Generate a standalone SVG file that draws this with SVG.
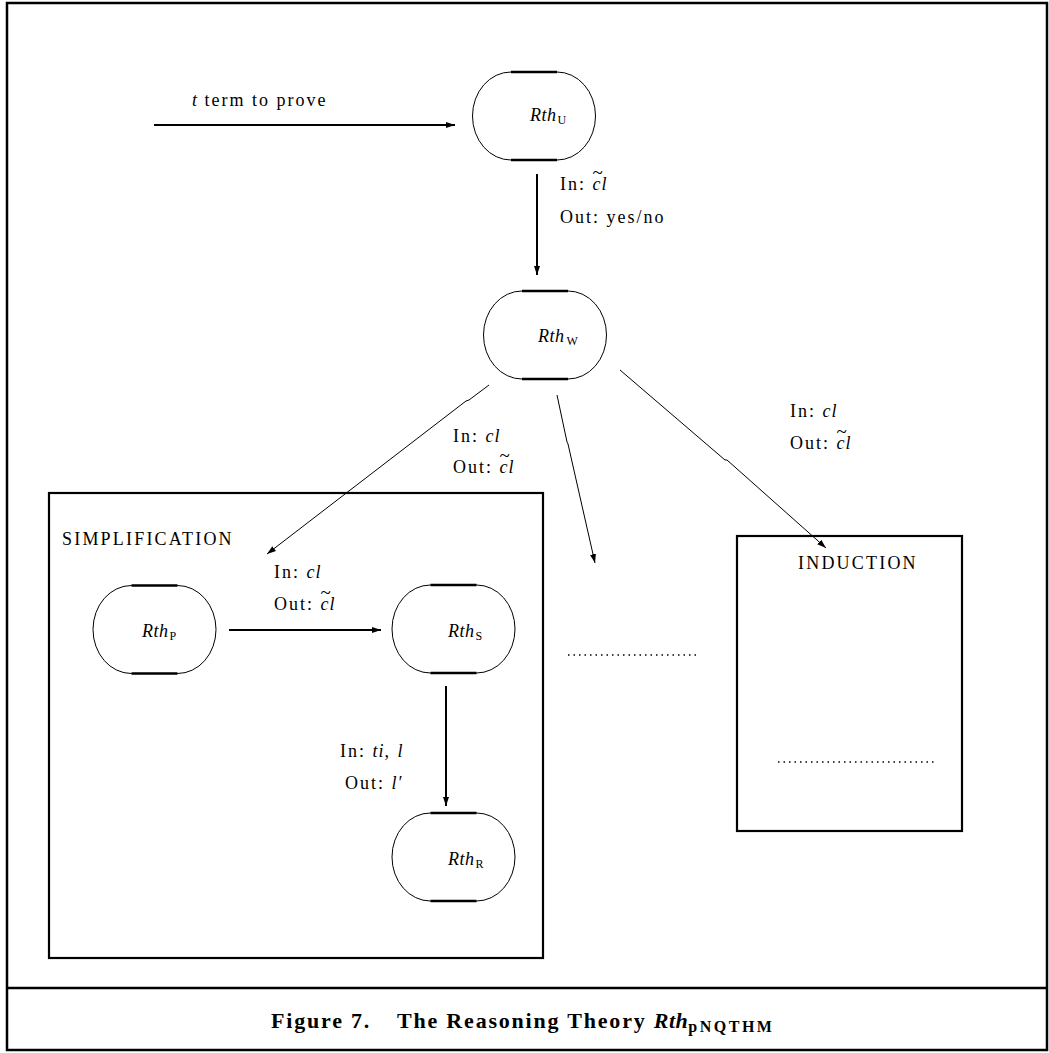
<svg xmlns="http://www.w3.org/2000/svg" xmlns:xlink="http://www.w3.org/1999/xlink" width="1049" height="1053" viewBox="0 0 1049 1053">
  <style>
    text { font-family: "Liberation Serif", "DejaVu Serif", serif; font-size: 18px; letter-spacing: 2px; fill: #000; }
    .it { font-style: italic; letter-spacing: 1px; }
    .tl { font-size: 19px; font-style: normal; letter-spacing: 0; }
    .sub { font-size: 12px; font-style: normal; letter-spacing: 0; }
    .rth { font-size: 18px; font-style: italic; letter-spacing: 0.5px; }
    .caps { letter-spacing: 2.2px; }
    .edge { fill: none; stroke: #000; }
    .frame { fill: none; stroke: #000; stroke-width: 2.5; }
    .box { fill: none; stroke: #000; stroke-width: 2.2; }
    .outline { fill: #fff; stroke: #000; stroke-width: 1; }
    .flat { fill: none; stroke: #000; stroke-width: 2.5; }
    .caption { font-size: 22px; font-weight: bold; letter-spacing: 1.8px; }
  </style>
  <defs>
    <marker id="arrow" markerUnits="userSpaceOnUse" markerWidth="10" markerHeight="8" refX="9" refY="4" orient="auto">
      <path d="M0,1 L9,4 L0,7 Z" fill="#000"/>
    </marker>
    <!-- rounded-end node shape, centred on the origin -->
    <g id="stadium">
      <path class="outline" d="M-23,-44 H23 A38.5,44 0 0 1 23,44 H-23 A38.5,44 0 0 1 -23,-44 Z"/>
      <path class="flat" d="M-23,-44 H23 M-23,44 H23"/>
    </g>
  </defs>

  <rect width="1049" height="1053" fill="#fff"/>

  <!-- outer frame and caption rule -->
  <rect class="frame" x="7" y="3" width="1040" height="1047"/>
  <line class="frame" x1="7" y1="988" x2="1047" y2="988"/>

  <!-- containers -->
  <g id="simplification">
    <rect class="box" x="49" y="493" width="494" height="465"/>
    <text class="caps" x="62" y="545">SIMPLIFICATION</text>
  </g>
  <g id="induction">
    <rect class="box" x="737" y="536" width="225" height="295"/>
    <text class="caps" x="798" y="569">INDUCTION</text>
    <line x1="778" y1="762" x2="935" y2="762" stroke="#000" stroke-width="1.5" stroke-dasharray="1.5,4"/>
  </g>

  <!-- connectors -->
  <g id="connectors">
    <line class="edge" stroke-width="2" x1="154" y1="125" x2="455" y2="125" marker-end="url(#arrow)"/>
    <line class="edge" stroke-width="2" x1="537" y1="174" x2="537" y2="275" marker-end="url(#arrow)"/>
    <polyline class="edge" stroke-width="1" points="489,385 469,400 466,401 267,554" marker-end="url(#arrow)"/>
    <polyline class="edge" stroke-width="1" points="557,395 567,442 568,444 595,563" marker-end="url(#arrow)"/>
    <polyline class="edge" stroke-width="1" points="620,370 725,460 727,460 826,548" marker-end="url(#arrow)"/>
    <line class="edge" stroke-width="2" x1="229" y1="630" x2="381" y2="630" marker-end="url(#arrow)"/>
    <line class="edge" stroke-width="2" x1="446" y1="686" x2="446" y2="806" marker-end="url(#arrow)"/>
    <line x1="568" y1="655" x2="698" y2="655" stroke="#000" stroke-width="1.5" stroke-dasharray="1.5,4"/>
  </g>

  <!-- connector labels; the trailing "~" tspan is the tilde accent over cl -->
  <g id="labels">
    <text x="192" y="106"><tspan class="it">t</tspan> term to prove</text>

    <text x="560" y="190">In: <tspan class="it">cl</tspan><tspan class="tl" dx="-15" dy="-11">~</tspan></text>
    <text x="560" y="223">Out: yes/no</text>

    <text x="453" y="442">In: <tspan class="it">cl</tspan></text>
    <text x="453" y="473">Out: <tspan class="it">cl</tspan><tspan class="tl" dx="-15" dy="-11">~</tspan></text>

    <text x="790" y="417">In: <tspan class="it">cl</tspan></text>
    <text x="790" y="449">Out: <tspan class="it">cl</tspan><tspan class="tl" dx="-15" dy="-11">~</tspan></text>

    <text x="274" y="578">In: <tspan class="it">cl</tspan></text>
    <text x="274" y="610">Out: <tspan class="it">cl</tspan><tspan class="tl" dx="-15" dy="-11">~</tspan></text>

    <text x="340" y="757">In: <tspan class="it">ti</tspan>, <tspan class="it">l</tspan></text>
    <text x="345" y="789">Out: <tspan class="it">l′</tspan></text>
  </g>

  <!-- nodes -->
  <g id="rth-u">
    <use xlink:href="#stadium" transform="translate(534,116)"/>
    <text x="530" y="121"><tspan class="rth">Rth</tspan><tspan class="sub" dx="1" dy="3">U</tspan></text>
  </g>
  <g id="rth-w">
    <use xlink:href="#stadium" transform="translate(545,335)"/>
    <text x="538" y="342"><tspan class="rth">Rth</tspan><tspan class="sub" dx="2" dy="3">W</tspan></text>
  </g>
  <g id="rth-p">
    <use xlink:href="#stadium" transform="translate(154.5,629.5)"/>
    <text x="142" y="637"><tspan class="rth">Rth</tspan><tspan class="sub" dx="1" dy="3">P</tspan></text>
  </g>
  <g id="rth-s">
    <use xlink:href="#stadium" transform="translate(453.5,629)"/>
    <text x="448" y="637"><tspan class="rth">Rth</tspan><tspan class="sub" dx="1" dy="3">S</tspan></text>
  </g>
  <g id="rth-r">
    <use xlink:href="#stadium" transform="translate(453.5,857)"/>
    <text x="448" y="865"><tspan class="rth">Rth</tspan><tspan class="sub" dx="1" dy="3">R</tspan></text>
  </g>

  <!-- caption -->
  <text class="caption" x="271" y="1028">Figure 7.<tspan x="397">The Reasoning Theory </tspan><tspan font-style="italic" letter-spacing="0.5">Rth</tspan><tspan font-size="16" letter-spacing="2.5" dy="4">pNQTHM</tspan></text>
</svg>
